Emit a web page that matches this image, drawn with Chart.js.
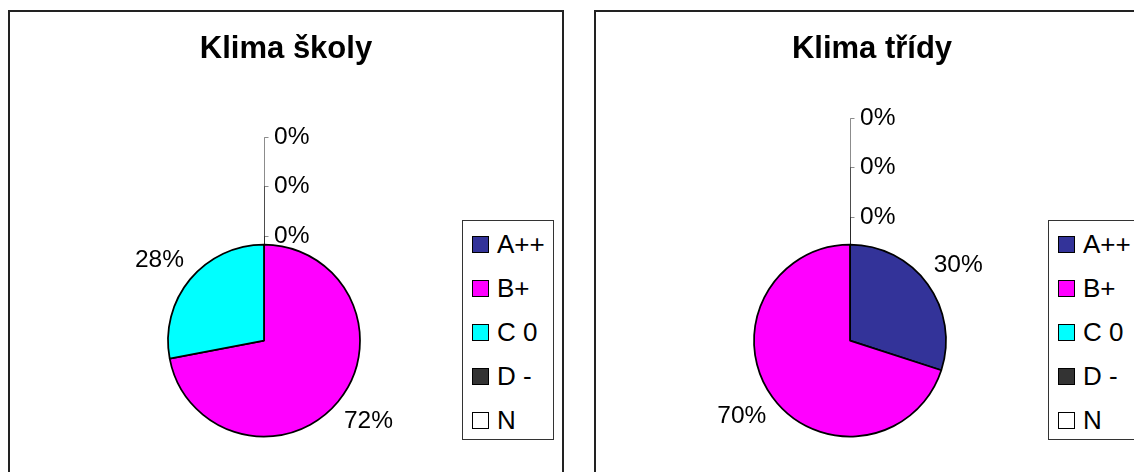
<!DOCTYPE html>
<html>
<head>
<meta charset="utf-8">
<script src="https://cdn.jsdelivr.net/npm/chart.js@4/dist/chart.umd.min.js"></script>
<style>
  html, body { margin: 0; padding: 0; background: #fff; }
  body { width: 1134px; height: 472px; overflow: hidden; position: relative; font-family: "Liberation Sans", Arial, sans-serif; }
  .panel { position: absolute; top: 10px; width: 556px; height: 500px; border: 2px solid #222; box-sizing: border-box; }
  .panel canvas { position: absolute; left: -2px; top: -2px; }
  .legend { position: absolute; left: 452px; top: 208px; width: 92px; height: 220px; border: 1px solid #333; box-sizing: border-box; padding: 1px 0 0 9px; background: #fff; }
  .legend .item { height: 44px; display: flex; align-items: center; font-size: 26px; color: #000; white-space: nowrap; }
  .legend .box { width: 15px; height: 15px; border: 1px solid #000; margin-right: 8px; flex: none; }
</style>
</head>
<body>
<div class="panel" style="left:8px"><canvas id="skola" width="556" height="462"></canvas><div class="legend" id="legend-skola"></div></div>
<div class="panel" style="left:594px"><canvas id="trida" width="556" height="462"></canvas><div class="legend" id="legend-trida"></div></div>
<script>
const categories = ['A++', 'B+', 'C 0', 'D -', 'N'];
const skolaValues = [0, 72, 28, 0, 0];
const tridaValues = [30, 70, 0, 0, 0];
const colors = ['#333399', '#FF00FF', '#00FFFF', '#333333', '#FFFFFF'];

Chart.defaults.font.family = '"Liberation Sans", Arial, sans-serif';

// popisky procent jako v Excelu, nulove hodnoty nad grafem s vodici carou
const pieLabels = {
    id: 'pieLabels',
    afterDatasetsDraw(chart, args, opts) {
        const ctx = chart.ctx;
        const meta = chart.getDatasetMeta(0);
        const data = chart.data.datasets[0].data;
        const zeros = [];
        ctx.save();
        ctx.font = '24.5px "Liberation Sans", Arial, sans-serif';
        ctx.fillStyle = '#000';
        ctx.textBaseline = 'middle';
        meta.data.forEach((arc, i) => {
            const p = arc.getProps(['x', 'y', 'outerRadius', 'startAngle', 'endAngle'], true);
            if (data[i] === 0) {
                zeros.push(p);
                return;
            }
            const mid = (p.startAngle + p.endAngle) / 2;
            const ex = p.x + Math.cos(mid) * p.outerRadius;
            const ey = p.y + Math.sin(mid) * p.outerRadius;
            const sx = Math.cos(mid) >= 0 ? 1 : -1;
            const sy = Math.sin(mid) >= 0 ? 1 : -1;
            ctx.textAlign = sx > 0 ? 'left' : 'right';
            ctx.fillText(data[i] + '%', ex + sx * 6, ey + sy * 19);
        });
        zeros.forEach((p, k) => {
            const topY = p.y - p.outerRadius;
            const ly = Math.round(topY - opts.gap - k * 49.5);
            ctx.strokeStyle = 'rgba(0,0,0,0.45)';
            ctx.lineWidth = 1;
            ctx.beginPath();
            ctx.moveTo(Math.round(p.x) + 0.5, topY);
            ctx.lineTo(Math.round(p.x) + 0.5, ly + 0.5);
            ctx.lineTo(Math.round(p.x) + 4.5, ly + 0.5);
            ctx.stroke();
            ctx.textAlign = 'left';
            ctx.fillText('0%', p.x + 10, ly);
        });
        ctx.restore();
    }
};

function makePie(id, title, values, zeroGap) {
    const chart = new Chart(document.getElementById(id), {
        type: 'pie',
        data: {
            labels: categories,
            datasets: [{
                data: values,
                backgroundColor: colors,
                borderColor: '#000',
                borderWidth: 1.75,
                hoverOffset: 0
            }]
        },
        options: {
            responsive: false,
            devicePixelRatio: 1,
            animation: false,
            radius: 96,
            layout: { padding: { left: 60, right: 60, top: 0, bottom: 2 } },
            plugins: {
                legend: { display: false },
                tooltip: { enabled: false },
                title: {
                    display: true,
                    text: title,
                    color: '#000',
                    font: { size: 31, weight: 'bold', lineHeight: 1.2 },
                    padding: { top: 21, bottom: 143 }
                },
                // prazdne misto vpravo pro legendu, aby kolac nebyl pod stredem nadpisu
                subtitle: {
                    display: true,
                    position: 'right',
                    fullSize: false,
                    text: ' ',
                    font: { size: 10, lineHeight: '44px' },
                    padding: 0
                },
                pieLabels: { gap: zeroGap }
            }
        },
        plugins: [pieLabels]
    });

    const legend = document.getElementById('legend-' + id);
    chart.data.labels.forEach((label, i) => {
        const item = document.createElement('div');
        item.className = 'item';
        const box = document.createElement('span');
        box.className = 'box';
        box.style.background = colors[i];
        item.appendChild(box);
        item.appendChild(document.createTextNode(label));
        legend.appendChild(item);
    });
    return chart;
}

makePie('skola', 'Klima školy', skolaValues, 9);
makePie('trida', 'Klima třídy', tridaValues, 28);
</script>
</body>
</html>
